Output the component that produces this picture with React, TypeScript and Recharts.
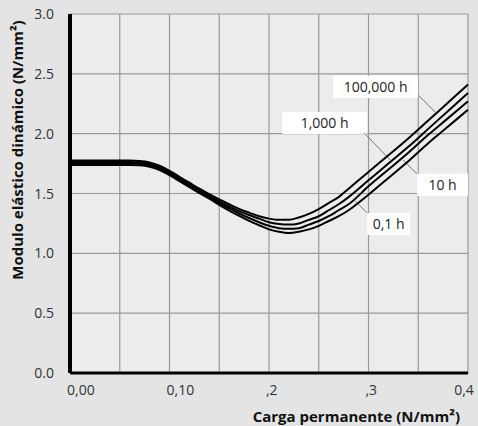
import React from "react";
import {
  LineChart,
  Line,
  XAxis,
  YAxis,
  CartesianGrid,
  ReferenceArea,
  ReferenceLine,
} from "recharts";

// load in N/mm² (x) and dynamic modulus in N/mm² (y)
const loads = [
  0, 0.02, 0.04, 0.06, 0.07, 0.08, 0.09, 0.1, 0.11, 0.12, 0.13, 0.14, 0.15,
  0.16, 0.17, 0.18, 0.19, 0.2, 0.21, 0.22, 0.23, 0.24, 0.25, 0.26, 0.27, 0.28,
  0.3, 0.32, 0.34, 0.36, 0.38, 0.4,
];
const h100000 = [
  1.775, 1.775, 1.775, 1.775, 1.772, 1.76, 1.732, 1.69, 1.64, 1.59, 1.54, 1.495,
  1.45, 1.41, 1.372, 1.34, 1.31, 1.29, 1.28, 1.28, 1.3, 1.33, 1.37, 1.42, 1.47,
  1.54, 1.68, 1.82, 1.96, 2.11, 2.26, 2.41,
];
const h1000 = [
  1.763, 1.763, 1.763, 1.763, 1.76, 1.748, 1.72, 1.678, 1.628, 1.578, 1.528,
  1.482, 1.435, 1.393, 1.353, 1.32, 1.29, 1.26, 1.245, 1.24, 1.25, 1.28, 1.31,
  1.36, 1.41, 1.47, 1.61, 1.75, 1.89, 2.04, 2.19, 2.34,
];
const h10 = [
  1.751, 1.751, 1.751, 1.751, 1.748, 1.736, 1.708, 1.666, 1.616, 1.566, 1.516,
  1.47, 1.42, 1.375, 1.333, 1.295, 1.26, 1.23, 1.21, 1.205, 1.21, 1.24, 1.27,
  1.31, 1.36, 1.41, 1.56, 1.7, 1.84, 1.99, 2.13, 2.27,
];
const h01 = [
  1.739, 1.739, 1.739, 1.739, 1.736, 1.724, 1.696, 1.654, 1.604, 1.554, 1.504,
  1.458, 1.405, 1.357, 1.313, 1.272, 1.235, 1.2, 1.18, 1.17, 1.18, 1.2, 1.23,
  1.27, 1.31, 1.36, 1.49, 1.63, 1.77, 1.92, 2.06, 2.2,
];

const xTicks = [0, 0.05, 0.1, 0.15, 0.2, 0.25, 0.3, 0.35, 0.4];
const xTickLabels = ["0,00", "", "0,10", "", ",2", "", ",3", "", "0,4"];
const yTicks = [0, 0.5, 1, 1.5, 2, 2.5, 3];
const yTickLabels = ["0.0", "0.5", "1.0", "1.5", "2.0", "2.5", "3.0"];

const seriesNames = ["100,000 h", "1,000 h", "10 h", "0,1 h"];

const data = loads.map((x, i) => ({
  x,
  a: h100000[i],
  b: h1000[i],
  c: h10[i],
  d: h01[i],
}));

// annotation boxes and leader lines (data coordinates)
const callouts = [
  { text: seriesNames[0], box: [0.2644, 0.3498, 2.299, 2.483], lead: [0.3498, 2.324, 0.3669, 2.182] },
  { text: seriesNames[1], box: [0.2133, 0.2986, 1.998, 2.182], lead: [0.2956, 2.007, 0.3217, 1.781] },
  { text: seriesNames[2], box: [0.3488, 0.4, 1.48, 1.664], lead: [0.3488, 1.664, 0.3347, 1.781] },
  { text: seriesNames[3], box: [0.2986, 0.3418, 1.154, 1.338], lead: [0.2986, 1.338, 0.2866, 1.438] },
];

const FONT = "'Open Sans', 'Noto Sans', sans-serif";

const XTick = (props: any) => {
  const { x, y, payload } = props;
  const i = xTicks.indexOf(payload.value);
  const label = xTickLabels[i] ?? "";
  const last = i === xTicks.length - 1;
  return (
    <text
      x={last ? x - 4 : x - 3}
      y={y + 22}
      textAnchor={last ? "middle" : "start"}
      fontSize={14}
      fontFamily={FONT}
      fill="#333"
    >
      {label}
    </text>
  );
};

const YTick = (props: any) => {
  const { x, y, payload } = props;
  const i = yTicks.indexOf(payload.value);
  return (
    <text
      x={x - 16}
      y={y + 5}
      textAnchor="end"
      fontSize={14}
      fontFamily={FONT}
      fill="#333"
    >
      {yTickLabels[i]}
    </text>
  );
};

const App = () => {
  return (
    <div
      style={{
        position: "fixed",
        left: 0,
        top: 0,
        width: 478,
        height: 426,
        background: "#e3e4e3",
        fontFamily: FONT,
      }}
    >
      <LineChart
        width={478}
        height={426}
        data={data}
        margin={{ top: 14, right: 10, bottom: 0, left: 0 }}
      >
        <CartesianGrid
          stroke="#999"
          strokeWidth={1.2}
          fill="#ebeceb"
          fillOpacity={1}
        />
        <XAxis
          dataKey="x"
          type="number"
          domain={[0, 0.4]}
          ticks={xTicks}
          interval={0}
          height={53}
          tickSize={0}
          tickMargin={0}
          tickLine={false}
          axisLine={{ stroke: "#000", strokeWidth: 3 }}
          tick={<XTick />}
          label={(p: any) => {
            const vb = p.viewBox;
            return (
              <text
                x={vb.x + vb.width - 8}
                y={vb.y + 49}
                textAnchor="end"
                fontSize={15}
                fontWeight="bold"
                fontFamily={FONT}
                fill="#111"
              >
                Carga permanente (N/mm²)
              </text>
            );
          }}
        />
        <YAxis
          type="number"
          domain={[0, 3]}
          ticks={yTicks}
          interval={0}
          width={70}
          tickSize={0}
          tickMargin={0}
          tickLine={false}
          axisLine={{ stroke: "#000", strokeWidth: 4 }}
          tick={<YTick />}
          label={(p: any) => {
            const vb = p.viewBox;
            const cx = 23;
            const cy = vb.y + 136;
            return (
              <text
                x={cx}
                y={cy}
                transform={`rotate(-90 ${cx} ${cy})`}
                textAnchor="middle"
                fontSize={15}
                fontWeight="bold"
                fontFamily={FONT}
                fill="#111"
              >
                Modulo elástico dinámico (N/mm²)
              </text>
            );
          }}
        />
        {callouts.map((c) => (
          <ReferenceLine
            key={"l" + c.text}
            segment={[
              { x: c.lead[0], y: c.lead[1] },
              { x: c.lead[2], y: c.lead[3] },
            ]}
            stroke="#777"
            strokeWidth={1}
            ifOverflow="visible"
          />
        ))}
        {callouts.map((c) => (
          <ReferenceArea
            key={"b" + c.text}
            x1={c.box[0]}
            x2={c.box[1]}
            y1={c.box[2]}
            y2={c.box[3]}
            fill="#ffffff"
            fillOpacity={1}
            stroke="none"
            ifOverflow="visible"
            label={{
              value: c.text,
              position: "center",
              fontSize: 14,
              fill: "#222",
              fontFamily: FONT,
            }}
          />
        ))}
        <Line type="monotone" dataKey="a" name={seriesNames[0]} stroke="#000" strokeWidth={2} dot={false} isAnimationActive={false} />
        <Line type="monotone" dataKey="b" name={seriesNames[1]} stroke="#000" strokeWidth={2} dot={false} isAnimationActive={false} />
        <Line type="monotone" dataKey="c" name={seriesNames[2]} stroke="#000" strokeWidth={2} dot={false} isAnimationActive={false} />
        <Line type="monotone" dataKey="d" name={seriesNames[3]} stroke="#000" strokeWidth={2} dot={false} isAnimationActive={false} />
      </LineChart>
    </div>
  );
};

export default App;
